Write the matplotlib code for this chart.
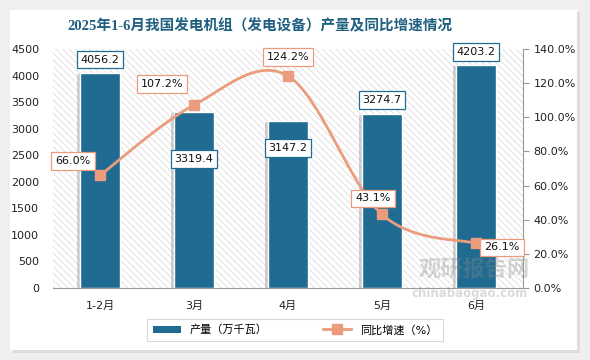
import numpy as np
import matplotlib.pyplot as plt
import matplotlib.patheffects as pe
from matplotlib.patches import Rectangle, FancyBboxPatch
from matplotlib.lines import Line2D

plt.rcParams['font.family'] = ['DejaVu Sans', 'Noto Sans CJK SC']
plt.rcParams['hatch.linewidth'] = 0.5

# datos
categorias = ['1-2月', '3月', '4月', '5月', '6月']
produccion = [4056.2, 3319.4, 3147.2, 3274.7, 4203.2]   # 万千瓦
crecimiento = [66.0, 107.2, 124.2, 43.1, 26.1]          # %

titulo = '2025年1-6月我国发电机组（发电设备）产量及同比增速情况'

COLOR_BARRA = '#1F6B92'
COLOR_LINEA = '#EA9C7C'
COLOR_TITULO = '#1F5F80'

fig = plt.figure(figsize=(5.9, 3.6), dpi=100, facecolor='#EFEFEF')

# tarjeta blanca con sombra
sombra = FancyBboxPatch((13 / 590, 7 / 360), 567 / 590, 341 / 360, boxstyle='square,pad=0',
                        transform=fig.transFigure, facecolor='#DDDDDD', edgecolor='none', zorder=-2)
tarjeta = FancyBboxPatch((10 / 590, 10 / 360), 567 / 590, 340 / 360, boxstyle='square,pad=0',
                         transform=fig.transFigure, facecolor='white', edgecolor='none', zorder=-1)
fig.patches.extend([sombra, tarjeta])

fig.text(0.44, 1 - 26 / 360, titulo, ha='center', va='center', fontsize=10.5, fontweight='bold',
         color=COLOR_TITULO, family=['Liberation Serif', 'Noto Sans CJK SC'])

ax1 = fig.add_axes([53 / 590, 72 / 360, 470 / 590, 239 / 360])
ax1.set_facecolor('none')
fondo = Rectangle((0, 0), 1, 1, transform=ax1.transAxes, facecolor='white', edgecolor='#D6D6D6',
                  hatch='\\\\\\\\\\', lw=0, zorder=0)
ax1.add_patch(fondo)

x = np.arange(len(categorias))
barras = ax1.bar(x, produccion, width=0.43, color=COLOR_BARRA, edgecolor='white', linewidth=1, zorder=2)
for b in barras:
    b.set_path_effects([pe.SimplePatchShadow(offset=(-2, -1), shadow_rgbFace='#999999', alpha=0.45), pe.Normal()])

ax1.set_xlim(-0.5, len(categorias) - 0.5)
ax1.set_ylim(0, 4500)
ax1.set_yticks(np.arange(0, 4501, 500))
ax1.set_xticks(x)
ax1.set_xticklabels(categorias)
for s in ['top', 'right', 'left']:
    ax1.spines[s].set_visible(False)
ax1.spines['bottom'].set_color('#999999')
ax1.tick_params(axis='y', length=0, labelsize=8, pad=10, colors='#222222')
ax1.tick_params(axis='x', length=0, labelsize=8, pad=9, colors='#222222')

# etiquetas de barras (desplazamiento en pixeles desde el tope)
desp_barras = [13, -47, -27, 14, 13]
for i, (v, d) in enumerate(zip(produccion, desp_barras)):
    ax1.annotate(f'{v:.1f}', (x[i], v), xytext=(0, d), textcoords='offset pixels', ha='center', va='center',
                 fontsize=8, color='#111111', zorder=6,
                 bbox=dict(boxstyle='square,pad=0.35', facecolor='white', edgecolor=COLOR_BARRA, lw=0.9))

ax2 = ax1.twinx()
ax2.set_ylim(0, 140)
ax2.set_yticks(np.arange(0, 141, 20))
ax2.set_yticklabels([f'{t:.1f}%' for t in np.arange(0, 141, 20)])
for s in ['top', 'left', 'bottom']:
    ax2.spines[s].set_visible(False)
ax2.spines['right'].set_color('#999999')
ax2.tick_params(axis='y', length=4, color='#999999', labelsize=8, labelcolor='#222222')

# curva suavizada (Catmull-Rom) entre los puntos
xs, ys = [], []
px = np.concatenate(([x[0]], x, [x[-1]])).astype(float)
py = np.concatenate(([crecimiento[0]], crecimiento, [crecimiento[-1]]))
t = np.linspace(0, 1, 30)
for k in range(1, len(px) - 2):
    for arr, p in ((xs, px), (ys, py)):
        p0, p1, p2, p3 = p[k - 1], p[k], p[k + 1], p[k + 2]
        arr.extend(0.5 * (2 * p1 + (-p0 + p2) * t + (2 * p0 - 5 * p1 + 4 * p2 - p3) * t ** 2
                          + (-p0 + 3 * p1 - 3 * p2 + p3) * t ** 3))
ax2.plot(xs, ys, color=COLOR_LINEA, lw=2, zorder=3)
ax2.plot(x, crecimiento, ls='none', marker='s', ms=7, color=COLOR_LINEA, zorder=4)

desp_linea = [(-27, 14), (-32, 21), (0, 19), (-9, 16), (26, -4)]
for i, (v, (dx, dy)) in enumerate(zip(crecimiento, desp_linea)):
    ax2.annotate(f'{v:.1f}%', (x[i], v), xytext=(dx, dy), textcoords='offset pixels', ha='center', va='center',
                 fontsize=8, color='#111111', zorder=6,
                 bbox=dict(boxstyle='square,pad=0.35', facecolor='white', edgecolor=COLOR_LINEA, lw=0.9))

# marca de agua
fig.text(474 / 590, 1 - 270 / 360, '观研报告网', ha='center', va='center', fontsize=16, fontweight='bold',
         color='#888888', alpha=0.35, family='Noto Sans CJK SC')
fig.text(470 / 590, 1 - 293 / 360, 'chinabaogao.com', ha='center', va='center', fontsize=8.5,
         fontweight='bold', color='#888888', alpha=0.3)

handles = [Rectangle((0, 0), 1, 1, facecolor=COLOR_BARRA),
           Line2D([], [], color=COLOR_LINEA, lw=2, marker='s', ms=7)]
leg = fig.legend(handles, ['产量（万千瓦）', '同比增速（%）'], loc='center', bbox_to_anchor=(295 / 590, 1 - 330 / 360),
                 ncol=2, fontsize=8, frameon=True, fancybox=False, edgecolor='#D0D0D0',
                 handlelength=2.5, columnspacing=5, borderpad=0.5)
leg.get_frame().set_linewidth(0.8)

plt.savefig('out.png', dpi=100, facecolor=fig.get_facecolor())
